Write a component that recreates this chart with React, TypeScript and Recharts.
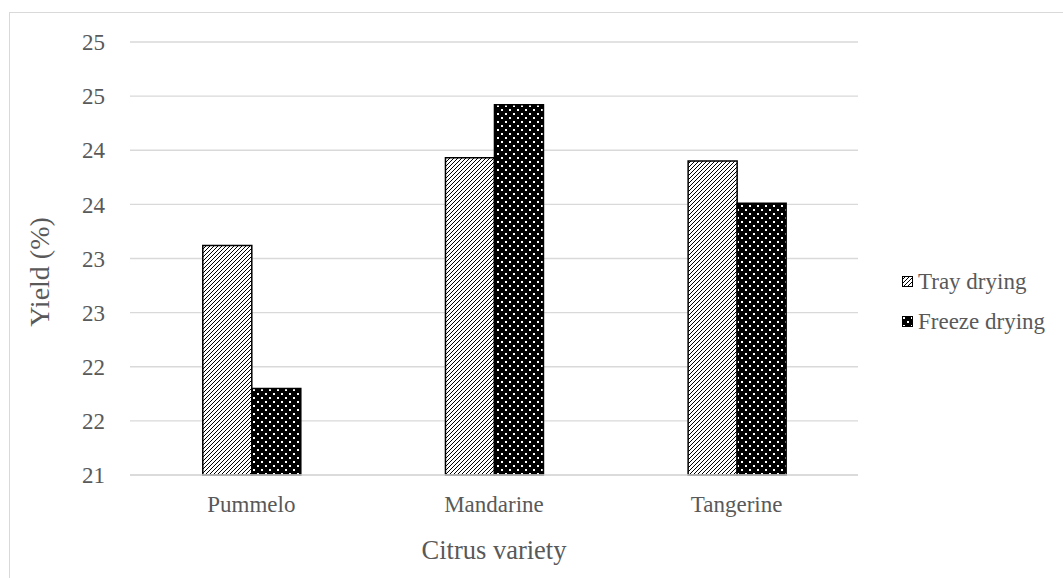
import React from 'react';
import { BarChart, Bar, XAxis, YAxis, CartesianGrid } from 'recharts';

const categories = ['Pummelo', 'Mandarine', 'Tangerine'];
const trayDrying = [23.12, 23.93, 23.9];
const freezeDrying = [21.8, 24.42, 23.51];
const yTicks = [21, 21.5, 22, 22.5, 23, 23.5, 24, 24.5, 25];

const data = categories.map((name, i) => ({
  name,
  tray: trayDrying[i],
  freeze: freezeDrying[i]
}));

const font = '"Liberation Serif", "Times New Roman", serif';
const textColor = '#595959';

function Patterns() {
  return <defs>
      <pattern id="tray" patternUnits="userSpaceOnUse" width="4" height="4">
        <rect width="4" height="4" fill="#fff" />
        <path d="M-1,1 l2,-2 M0,4 l4,-4 M3,5 l2,-2" stroke="#000" strokeWidth="1" />
      </pattern>
      <pattern id="freeze" patternUnits="userSpaceOnUse" width="8" height="8">
        <rect width="8" height="8" fill="#000" />
        <rect x="1" y="1" width="2" height="2" fill="#fff" />
        <rect x="5" y="5" width="2" height="2" fill="#fff" />
      </pattern>
    </defs>;
}

function LegendBox() {
  const items = [{ label: 'Tray drying', fill: 'url(#tray)' }, { label: 'Freeze drying', fill: 'url(#freeze)' }];
  return <div style={{ position: 'absolute', left: 902, top: 266, fontFamily: font, fontSize: 23, color: textColor }}>
      {items.map((it, i) => <div key={it.label} style={{ display: 'flex', alignItems: 'center', height: 32, marginBottom: i === 0 ? 8 : 0 }}>
          <svg width={12} height={12} style={{ marginRight: 4 }}>
            <rect x={0.5} y={0.5} width={10} height={10} fill={it.fill} stroke="#000" strokeWidth={1} />
          </svg>
          <span>{it.label}</span>
        </div>)}
    </div>;
}

export default function App() {
  return <div style={{ position: 'absolute', left: 0, top: 0, width: 1063, height: 578, background: '#fff', overflow: 'hidden' }}>
      <div style={{ position: 'absolute', left: 9, top: 12, width: 1070, height: 600, border: '1px solid #d9d9d9' }} />
      <BarChart width={1063} height={578} data={data} margin={{ top: 42, right: 205, left: 0, bottom: 0 }} barCategoryGap="30%" barGap={0}>
        <Patterns />
        <CartesianGrid vertical={false} stroke="#d9d9d9" strokeWidth={1.3} />
        <XAxis dataKey="name" height={103} tickLine={false} axisLine={{ stroke: '#d9d9d9', strokeWidth: 1.3 }} tickMargin={15} tick={{ fill: textColor, fontSize: 23, fontFamily: font }} label={{ value: 'Citrus variety', position: 'insideBottom', offset: 19, fill: textColor, fontSize: 26.5, fontFamily: font }} />
        <YAxis width={130} domain={[21, 25]} ticks={yTicks} interval={0} tickLine={false} axisLine={false} tickMargin={19} tickFormatter={(v: number) => String(Math.round(v))} tick={{ fill: textColor, fontSize: 23, fontFamily: font }} label={() => <text x={49} y={272} transform="rotate(-90 49 272)" textAnchor="middle" fill={textColor} fontSize={28} fontFamily={font}>Yield (%)</text>} />
        <Bar dataKey="tray" name="Tray drying" fill="url(#tray)" stroke="#000" strokeWidth={1.5} isAnimationActive={false} />
        <Bar dataKey="freeze" name="Freeze drying" fill="url(#freeze)" stroke="#000" strokeWidth={1.5} isAnimationActive={false} />
      </BarChart>
      <LegendBox />
    </div>;
}
